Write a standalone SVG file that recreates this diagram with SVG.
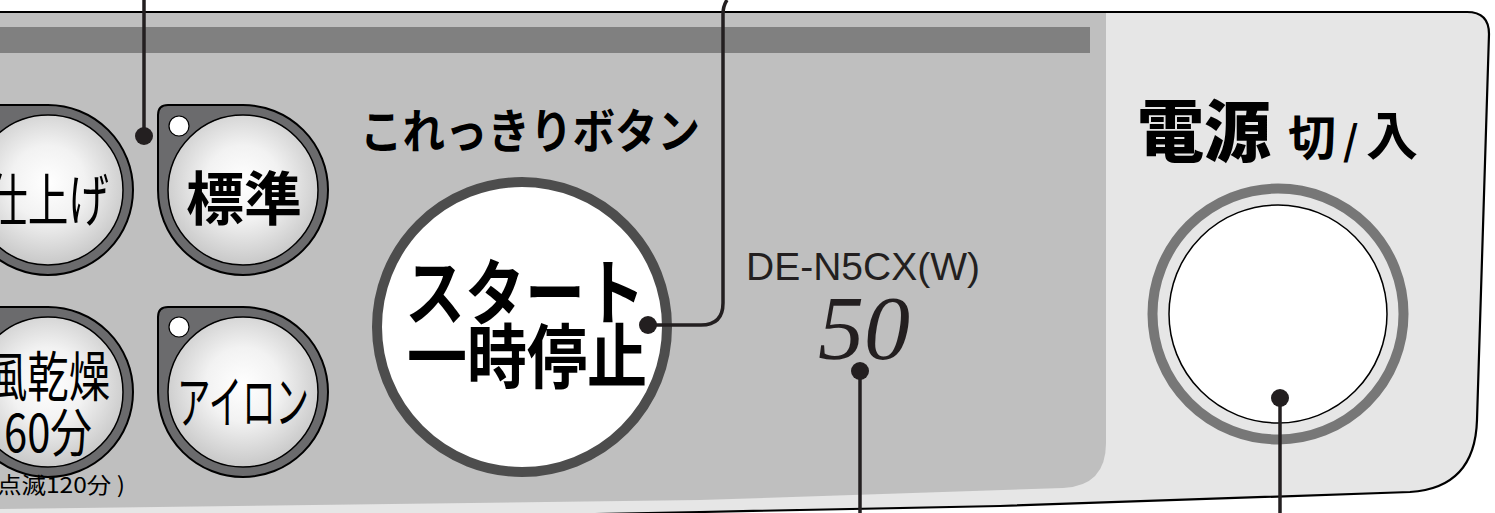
<svg xmlns="http://www.w3.org/2000/svg" width="1495" height="513" viewBox="0 0 1495 513">
<style>
.jp{font-family:"Noto Sans CJK JP","Noto Sans",sans-serif;fill:#000}
.ring{fill:#6b6b6d;stroke:#000;stroke-width:2}
.face{fill:url(#g);stroke:#000;stroke-width:1.5}
.led{fill:#fff;stroke:#000;stroke-width:1.2}
.lead{fill:none;stroke:#231f20;stroke-width:3.5}
.dot{fill:#231f20}
</style>
<defs>
<radialGradient id="g" cx="50%" cy="45%" r="55%">
<stop offset="0" stop-color="#ffffff"/>
<stop offset="0.45" stop-color="#f2f2f2"/>
<stop offset="1" stop-color="#c8c8c8"/>
</radialGradient>
<path id="tear" d="M-85,0 V-75 Q-85,-85 -75,-85 H0 A85,85 0 1 1 -85,0 Z"/>
</defs>
<rect width="1495" height="513" fill="#fff"/>
<g id="panel">
<path d="M-5,12 H1467 Q1489,12 1489,34 L1477,420 Q1475,488 1410,492 L1000,506 L700,512 L0,526 L-5,526 Z" fill="#e6e6e6" stroke="#000" stroke-width="2.2"/>
<path d="M0,13 H1106 V443 Q1106,486 1063,488 L700,500 L0,509 Z" fill="#bfbfbf"/>
<rect x="0" y="27" width="1090" height="26" fill="#808080"/>
</g>
<g id="btn-shiage">
<use href="#tear" class="ring" transform="translate(48,190)"/>
<circle cx="48" cy="190" r="75" class="face"/>
<circle cx="-16" cy="126" r="10" class="led"/>
<text class="jp" x="48" y="221" font-size="57" text-anchor="middle" textLength="122" lengthAdjust="spacingAndGlyphs">仕上げ</text>
</g>
<g id="btn-hyoujun">
<use href="#tear" class="ring" transform="translate(243,190)"/>
<circle cx="243" cy="190" r="75" class="face"/>
<circle cx="179" cy="126" r="10" class="led"/>
<text class="jp" x="244" y="220" font-size="58" font-weight="bold" text-anchor="middle">標準</text>
</g>
<g id="btn-kanso">
<use href="#tear" class="ring" transform="translate(48,392)"/>
<circle cx="48" cy="392" r="75" class="face"/>
<text class="jp" x="48" y="397" font-size="54" text-anchor="middle" textLength="124" lengthAdjust="spacingAndGlyphs">風乾燥</text>
<text class="jp" x="48" y="452" font-size="52" text-anchor="middle" textLength="88" lengthAdjust="spacingAndGlyphs">60分</text>
<text class="jp" x="-3" y="493" font-size="22" textLength="128" lengthAdjust="spacingAndGlyphs">点滅120分 )</text>
</g>
<g id="btn-iron">
<use href="#tear" class="ring" transform="translate(243,392)"/>
<circle cx="243" cy="392" r="75" class="face"/>
<circle cx="179" cy="327" r="10" class="led"/>
<text class="jp" x="243" y="423" font-size="57" text-anchor="middle" textLength="132" lengthAdjust="spacingAndGlyphs">アイロン</text>
</g>
<g id="korekkiri">
<text class="jp" x="360" y="148" font-size="47" font-weight="bold" textLength="340" lengthAdjust="spacingAndGlyphs">これっきりボタン</text>
</g>
<g id="btn-start">
<circle cx="522" cy="327" r="145" fill="#fff" stroke="#4d4d4d" stroke-width="10"/>
<text class="jp" x="525" y="319" font-size="72" font-weight="bold" text-anchor="middle" textLength="240" lengthAdjust="spacingAndGlyphs">スタート</text>
<text class="jp" x="527" y="383" font-size="70" font-weight="bold" text-anchor="middle" textLength="240" lengthAdjust="spacingAndGlyphs">一時停止</text>
</g>
<g id="model">
<text x="863" y="280" font-family="Liberation Sans, Arial, sans-serif" font-size="39" fill="#231f20" text-anchor="middle">DE-N5CX(W)</text>
<text x="864" y="359" font-family="Liberation Serif, serif" font-style="italic" font-size="92" fill="#231f20" text-anchor="middle">50</text>
</g>
<g id="power-label">
<text class="jp" x="1137" y="156" font-size="67" font-weight="900">電源</text>
<text class="jp" x="1288" y="155" font-size="48" font-weight="bold">切</text>
<text class="jp" x="1343" y="155" font-size="40" font-weight="bold">/</text>
<text class="jp" x="1366" y="155" font-size="52" font-weight="bold">入</text>
</g>
<g id="btn-power">
<circle cx="1278" cy="314" r="125.5" fill="#e6e6e6" stroke="#777" stroke-width="10"/>
<circle cx="1278" cy="314" r="109" fill="#fff" stroke="#000" stroke-width="1.5"/>
</g>
<g id="connectors">
<path class="lead" d="M144,0 V136"/>
<circle class="dot" cx="144" cy="136" r="9"/>
<path class="lead" d="M727,0 Q723,6 723,14 V303 Q723,325 701,325 H648"/>
<circle class="dot" cx="648" cy="325" r="9"/>
<path class="lead" d="M860,371 V513"/>
<circle class="dot" cx="860" cy="371" r="9"/>
<path class="lead" d="M1280,398 V513"/>
<circle class="dot" cx="1280" cy="398" r="9"/>
</g>
</svg>
